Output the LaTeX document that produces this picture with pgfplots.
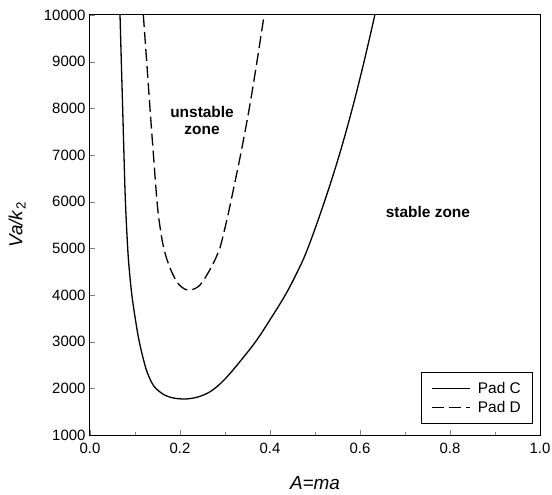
\documentclass[border=0pt]{standalone}
\usepackage{fontspec}
\setmainfont{Liberation Sans}
\usepackage{pgfplots}
\pgfplotsset{compat=1.18}
\begin{document}
\begin{tikzpicture}
\path[use as bounding box] (-90bp,-60bp) rectangle (462bp,435bp);
\begin{axis}[
  at={(0,0)}, anchor=south west,
  scale only axis, width=450bp, height=420bp,
  xmin=0, xmax=1, ymin=1000, ymax=10000,
  axis line style={line width=1bp},
  tick pos=left, tick align=inside,
  major tick length=5bp, minor tick length=3bp,
  xtick={0,0.2,...,1.0}, minor xtick={0.1,0.3,0.5,0.7,0.9},
  ytick={1000,2000,...,10000},
  /pgf/number format/assume math mode=true,
  xticklabel style={/pgf/number format/fixed,/pgf/number format/fixed zerofill,/pgf/number format/precision=1, yshift=-5bp},
  yticklabel style={/pgf/number format/set thousands separator={}, xshift=-1bp},
  scaled x ticks=false, scaled y ticks=false,
  tick label style={font=\fontsize{15}{18}\selectfont},
  xlabel={\textit{A=ma}},
  ylabel={\textit{Va/k}\textsubscript{2}},
  label style={font=\fontsize{19}{22}\selectfont},
  xlabel style={at={(axis description cs:0.5,-0.114)}, anchor=center},
  ylabel style={at={(axis description cs:-0.162,0.5)}, anchor=center, rotate=0},
  legend style={at={(axis description cs:0.985,0.026)}, anchor=south east,
    font=\fontsize{15.5}{18}\selectfont, draw=black, line width=0.8bp,
    inner xsep=10bp, inner ysep=8bp, row sep=2bp,
    /tikz/every odd column/.append style={column sep=6bp}},
  legend cell align=left,
  legend image code/.code={\draw[#1,line width=0.8bp] (0bp,0bp) -- (38bp,0bp);},
]
\addplot[black, line width=1.3bp, smooth, tension=0.6] coordinates {
(0.0667,10000) (0.0696,9000) (0.0726,8000) (0.0755,7000) (0.0787,6000)
(0.0838,5000) (0.0877,4500) (0.0930,4000) (0.1005,3500) (0.1095,3000)
(0.1220,2500) (0.1310,2250) (0.1410,2060) (0.1520,1950) (0.1650,1860)
(0.1800,1805) (0.1950,1778) (0.2070,1771) (0.2220,1780) (0.2400,1815)
(0.2620,1900) (0.2800,2020) (0.3000,2200) (0.3270,2500) (0.3680,3000)
(0.4020,3500) (0.4340,4000) (0.4610,4500) (0.4840,5000) (0.5210,6000)
(0.5540,7000) (0.5830,8000) (0.6090,9000) (0.6330,10000)
};
\addlegendentry{Pad C}
\addplot[black, line width=1.3bp, dash pattern=on 12bp off 5bp, smooth, tension=0.6] coordinates {
(0.1185,10000) (0.1260,9000) (0.1333,8000) (0.1410,7000) (0.1490,6000)
(0.1550,5500) (0.1640,5000) (0.1770,4600) (0.1920,4300) (0.2050,4160)
(0.2207,4105) (0.2430,4200) (0.2640,4500) (0.2800,4800) (0.2885,5000)
(0.3015,5500) (0.3130,6000) (0.3345,7000) (0.3540,8000) (0.3710,9000)
(0.3870,10000)
};
\addlegendentry{Pad D}
\node[font=\bfseries\fontsize{15.5}{17}\selectfont, align=center] at (axis cs:0.249,7745) {unstable\\zone};
\node[font=\bfseries\fontsize{15.5}{17}\selectfont] at (axis cs:0.751,5775) {stable zone};
\end{axis}
\end{tikzpicture}
\end{document}
